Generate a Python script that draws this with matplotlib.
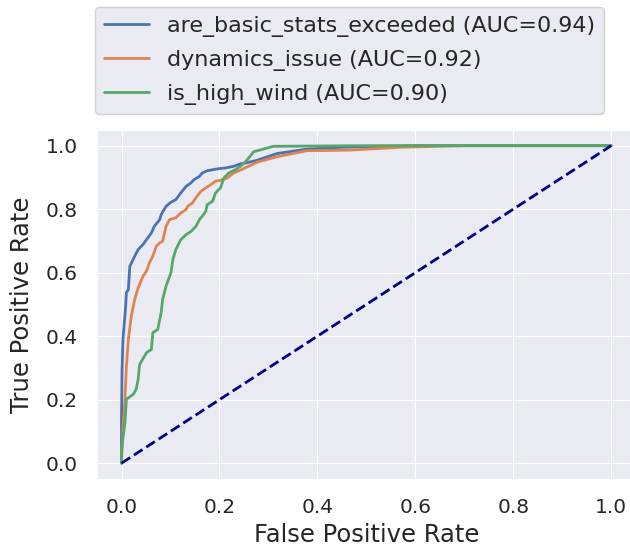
import matplotlib
matplotlib.use('Agg')
import matplotlib.pyplot as plt
import seaborn as sns

sns.set_style('darkgrid')

# ROC tocke, odcitane s slike
fpr_basic = [0.0, 0.0, 0.001, 0.003, 0.008, 0.010, 0.014, 0.017, 0.027, 0.034, 0.044, 0.051,
             0.061, 0.067, 0.078, 0.081, 0.091, 0.101, 0.111, 0.121, 0.132, 0.142, 0.148,
             0.159, 0.165, 0.175, 0.196, 0.213, 0.229, 0.243, 0.250, 0.277, 0.317, 0.378,
             0.45, 0.6, 0.8, 1.0]
tpr_basic = [0.0, 0.128, 0.285, 0.39, 0.484, 0.537, 0.547, 0.62, 0.652, 0.673, 0.689, 0.704,
             0.725, 0.746, 0.767, 0.783, 0.809, 0.822, 0.830, 0.851, 0.872, 0.883, 0.893,
             0.903, 0.914, 0.921, 0.927, 0.930, 0.935, 0.943, 0.944, 0.954, 0.975, 0.989,
             0.995, 1.0, 1.0, 1.0]

fpr_dyn = [0.0, 0.003, 0.007, 0.010, 0.014, 0.020, 0.027, 0.034, 0.044, 0.051, 0.057, 0.064,
           0.071, 0.078, 0.084, 0.091, 0.098, 0.111, 0.121, 0.132, 0.135, 0.145, 0.152,
           0.162, 0.172, 0.182, 0.192, 0.202, 0.216, 0.229, 0.243, 0.277, 0.317, 0.378,
           0.466, 0.57, 0.7, 1.0]
tpr_dyn = [0.0, 0.107, 0.201, 0.306, 0.39, 0.463, 0.516, 0.552, 0.589, 0.605, 0.631, 0.652,
           0.683, 0.694, 0.699, 0.746, 0.767, 0.773, 0.788, 0.799, 0.809, 0.820, 0.836,
           0.856, 0.867, 0.877, 0.888, 0.891, 0.898, 0.914, 0.923, 0.948, 0.965, 0.984,
           0.986, 0.995, 1.0, 1.0]

fpr_wind = [0.0, 0.0, 0.007, 0.010, 0.024, 0.030, 0.034, 0.037, 0.047, 0.051, 0.061, 0.064,
            0.074, 0.081, 0.084, 0.091, 0.101, 0.105, 0.111, 0.121, 0.132, 0.142, 0.152,
            0.159, 0.165, 0.172, 0.175, 0.186, 0.192, 0.202, 0.209, 0.219, 0.233, 0.243,
            0.256, 0.270, 0.310, 0.5, 1.0]
tpr_wind = [0.0, 0.041, 0.128, 0.201, 0.217, 0.233, 0.264, 0.311, 0.337, 0.348, 0.358, 0.411,
            0.421, 0.474, 0.516, 0.558, 0.6, 0.642, 0.673, 0.704, 0.720, 0.730, 0.746,
            0.767, 0.778, 0.793, 0.814, 0.825, 0.851, 0.867, 0.898, 0.914, 0.925, 0.935,
            0.954, 0.981, 0.998, 1.0, 1.0]

etikete = ['are_basic_stats_exceeded (AUC=0.94)',
           'dynamics_issue (AUC=0.92)',
           'is_high_wind (AUC=0.90)']

fig = plt.figure(figsize=(6.3, 5.5), dpi=100)
ax = fig.add_axes([0.154, 0.129, 0.855, 0.635])

barve = sns.color_palette('deep')
ax.plot(fpr_basic, tpr_basic, color=barve[0], lw=2, label=etikete[0])
ax.plot(fpr_dyn, tpr_dyn, color=barve[1], lw=2, label=etikete[1])
ax.plot(fpr_wind, tpr_wind, color=barve[2], lw=2, label=etikete[2])
ax.plot([0, 1], [0, 1], color='navy', lw=2, linestyle='--')

ax.set_xlim(-0.05, 1.05)
ax.set_ylim(-0.05, 1.05)
ax.set_xticks([0.0, 0.2, 0.4, 0.6, 0.8, 1.0])
ax.set_yticks([0.0, 0.2, 0.4, 0.6, 0.8, 1.0])
ax.tick_params(labelsize=14.5, pad=10.5)
ax.set_xlabel('False Positive Rate', fontsize=17.5, labelpad=4)
ax.set_ylabel('True Positive Rate', fontsize=17.5, labelpad=8.5)

ax.legend(loc='lower left', bbox_to_anchor=(-0.003, 1.045), fontsize=16,
          frameon=True, facecolor='#EAEAF2', edgecolor='#D0D0D8', framealpha=1.0,
          handlelength=2.0, labelspacing=0.6, borderaxespad=0)

fig.savefig('out.png', dpi=100)
